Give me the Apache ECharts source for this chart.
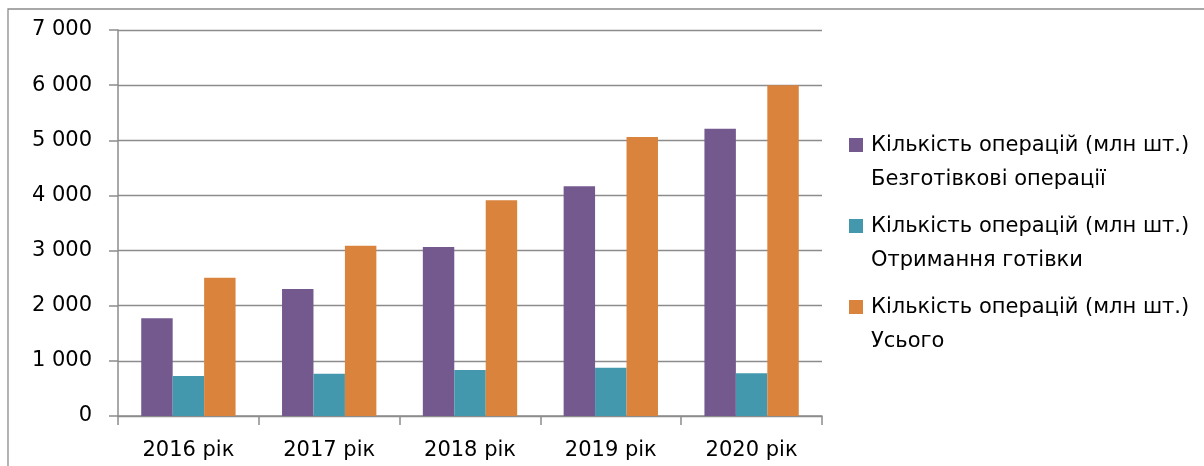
<!DOCTYPE html>
<html>
<head>
<meta charset="utf-8">
<script src="https://cdn.jsdelivr.net/npm/echarts@6/dist/echarts.min.js"></script>
<style>
html,body{margin:0;padding:0;background:#fff;}
#chart{width:1204px;height:466px;}
</style>
</head>
<body>
<div id="chart"></div>
<script>
const categories = ['2016 рік', '2017 рік', '2018 рік', '2019 рік', '2020 рік'];
const seriesNames = [
  'Кількість операцій (млн шт.)\nБезготівкові операції',
  'Кількість операцій (млн шт.)\nОтримання готівки',
  'Кількість операцій (млн шт.)\nУсього'
];
const cashless = [1772, 2303, 3065, 4165, 5211];
const cashOut = [725, 767, 834, 876, 774];
const total = [2509, 3089, 3911, 5060, 5997];
const yMin = 0, yMax = 7000, yStep = 1000;

const colors = ['#73598E', '#4398AE', '#DA833C'];
const font = 'DejaVu Sans';
const chart = echarts.init(document.getElementById('chart'), null, {renderer: 'canvas'});
const legendIcon = 'path://M0,0M17,67M0,9h14v14h-14z';

function fmt(v) {
  return String(v).replace(/\B(?=(\d{3})+(?!\d))/g, ' ');
}

chart.setOption({
  backgroundColor: '#ffffff',
  animation: false,
  graphic: [{
    type: 'rect',
    shape: {x: 8, y: 9, width: 1230, height: 480},
    style: {fill: 'none', stroke: '#8c8c8c', lineWidth: 1.3},
    silent: true
  }],
  grid: {left: 118, right: 382, top: 30, bottom: 50, containLabel: false},
  legend: {
    orient: 'vertical',
    left: 849,
    top: 129,
    padding: 0,
    itemWidth: 17,
    itemHeight: 67,
    itemGap: 14,
    icon: legendIcon,
    textStyle: {fontFamily: font, fontSize: 21, color: '#000', lineHeight: 33.5},
    data: seriesNames
  },
  xAxis: {
    type: 'category',
    data: categories,
    axisLine: {show: true, lineStyle: {color: '#8c8c8c', width: 1.5}},
    axisTick: {show: true, length: 9, alignWithLabel: false, lineStyle: {color: '#8c8c8c', width: 1.5}},
    axisLabel: {fontFamily: font, fontSize: 21, color: '#000', margin: 24},
    splitLine: {show: false}
  },
  yAxis: {
    type: 'value',
    min: yMin, max: yMax, interval: yStep,
    axisLine: {show: true, lineStyle: {color: '#8c8c8c', width: 1.5}},
    axisTick: {show: true, length: 9, lineStyle: {color: '#8c8c8c', width: 1.5}},
    axisLabel: {fontFamily: font, fontSize: 21, color: '#000', margin: 26, formatter: fmt},
    splitLine: {show: true, lineStyle: {color: '#8c8c8c', width: 1.3}}
  },
  series: [
    {name: seriesNames[0], type: 'bar', data: cashless, itemStyle: {color: colors[0]}, barGap: '0%', barCategoryGap: '33%'},
    {name: seriesNames[1], type: 'bar', data: cashOut, itemStyle: {color: colors[1]}, barGap: '0%', barCategoryGap: '33%'},
    {name: seriesNames[2], type: 'bar', data: total, itemStyle: {color: colors[2]}, barGap: '0%', barCategoryGap: '33%'}
  ]
});
</script>
</body>
</html>
